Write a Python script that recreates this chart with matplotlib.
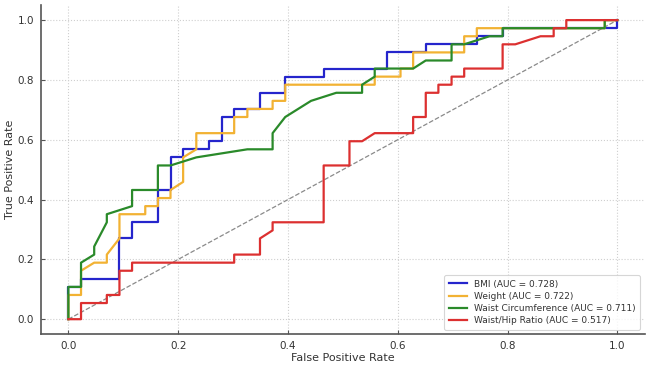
import matplotlib
matplotlib.use("Agg")
import matplotlib.pyplot as plt

# ROC curve points
bmi_fpr = [0, 0, 0.023, 0.023, 0.093, 0.093, 0.116, 0.116, 0.163, 0.163, 0.186, 0.186,
           0.209, 0.209, 0.256, 0.256, 0.279, 0.279, 0.302, 0.302, 0.349, 0.349, 0.395, 0.395,
           0.465, 0.465, 0.581, 0.581, 0.651, 0.651, 0.744, 0.744, 0.791, 0.791, 1.0, 1.0]
bmi_tpr = [0, 0.108, 0.108, 0.135, 0.135, 0.270, 0.270, 0.324, 0.324, 0.432, 0.432, 0.541,
           0.541, 0.568, 0.568, 0.595, 0.595, 0.676, 0.676, 0.703, 0.703, 0.757, 0.757, 0.811,
           0.811, 0.838, 0.838, 0.892, 0.892, 0.919, 0.919, 0.946, 0.946, 0.973, 0.973, 1.0]

weight_fpr = [0, 0, 0.023, 0.023, 0.047, 0.070, 0.070, 0.093, 0.093, 0.140, 0.140, 0.163,
              0.163, 0.186, 0.186, 0.209, 0.209, 0.233, 0.233, 0.302, 0.302, 0.326, 0.326, 0.372,
              0.372, 0.395, 0.395, 0.558, 0.558, 0.605, 0.605, 0.628, 0.628, 0.721, 0.721, 0.744,
              0.744, 0.977, 0.977, 1.0]
weight_tpr = [0, 0.081, 0.081, 0.162, 0.189, 0.189, 0.216, 0.270, 0.351, 0.351, 0.378, 0.378,
              0.405, 0.405, 0.432, 0.459, 0.541, 0.568, 0.622, 0.622, 0.676, 0.676, 0.703, 0.703,
              0.730, 0.730, 0.784, 0.784, 0.811, 0.811, 0.838, 0.838, 0.892, 0.892, 0.946, 0.946,
              0.973, 0.973, 1.0, 1.0]

waist_fpr = [0, 0, 0.023, 0.023, 0.047, 0.047, 0.070, 0.070, 0.116, 0.116, 0.163, 0.163,
             0.186, 0.233, 0.326, 0.372, 0.372, 0.395, 0.442, 0.488, 0.535, 0.535, 0.558, 0.558,
             0.628, 0.651, 0.698, 0.698, 0.721, 0.767, 0.791, 0.791, 0.977, 0.977, 1.0]
waist_tpr = [0, 0.108, 0.108, 0.189, 0.216, 0.243, 0.324, 0.351, 0.378, 0.432, 0.432, 0.514,
             0.514, 0.541, 0.568, 0.568, 0.622, 0.676, 0.730, 0.757, 0.757, 0.784, 0.811, 0.838,
             0.838, 0.865, 0.865, 0.919, 0.919, 0.946, 0.946, 0.973, 0.973, 1.0, 1.0]

whr_fpr = [0, 0.023, 0.023, 0.070, 0.070, 0.093, 0.093, 0.116, 0.116, 0.302, 0.302, 0.349,
           0.349, 0.372, 0.372, 0.465, 0.465, 0.512, 0.512, 0.535, 0.558, 0.628, 0.628, 0.651,
           0.651, 0.674, 0.674, 0.698, 0.698, 0.721, 0.721, 0.791, 0.791, 0.814, 0.860, 0.884,
           0.884, 0.907, 0.907, 1.0]
whr_tpr = [0, 0, 0.054, 0.054, 0.081, 0.081, 0.162, 0.162, 0.189, 0.189, 0.216, 0.216,
           0.270, 0.297, 0.324, 0.324, 0.514, 0.514, 0.595, 0.595, 0.622, 0.622, 0.676, 0.676,
           0.757, 0.757, 0.784, 0.784, 0.811, 0.811, 0.838, 0.838, 0.919, 0.919, 0.946, 0.946,
           0.973, 0.973, 1.0, 1.0]

labels = ["BMI (AUC = 0.728)", "Weight (AUC = 0.722)",
          "Waist Circumference (AUC = 0.711)", "Waist/Hip Ratio (AUC = 0.517)"]
colors = ["#2525cc", "#f2b233", "#2a8a2a", "#dc3030"]
ticks = [0.0, 0.2, 0.4, 0.6, 0.8, 1.0]
tick_labels = ["0.0", "0.2", "0.4", "0.6", "0.8", "1.0"]

fig = plt.figure(figsize=(6.5, 3.68), dpi=100)
ax = fig.add_axes([0.063, 0.092, 0.929, 0.894])

ax.plot([0, 1], [0, 1], linestyle="--", color="#8a8a8a", lw=0.9, zorder=1)
series = [(bmi_fpr, bmi_tpr), (weight_fpr, weight_tpr),
          (waist_fpr, waist_tpr), (whr_fpr, whr_tpr)]
for (fx, ty), lab, c in zip(series, labels, colors):
    ax.plot(fx, ty, color=c, lw=1.6, label=lab, zorder=2)

ax.set_xlim(-0.05, 1.05)
ax.set_ylim(-0.05, 1.05)
ax.set_xticks(ticks)
ax.set_xticklabels(tick_labels)
ax.set_yticks(ticks)
ax.set_yticklabels(tick_labels)
ax.grid(True, linestyle=":", color="#cfcfcf", lw=0.8)
ax.set_axisbelow(True)
for s in ["top", "right"]:
    ax.spines[s].set_visible(False)
for s in ["left", "bottom"]:
    ax.spines[s].set_color("#555555")
    ax.spines[s].set_linewidth(1.2)
ax.tick_params(axis="both", direction="in", length=3, color="#555555",
               labelsize=7.5, labelcolor="#333333", pad=5)
ax.set_xlabel("False Positive Rate", fontsize=8, color="#333333", labelpad=1.5)
ax.set_ylabel("True Positive Rate", fontsize=8, color="#333333", labelpad=1.5)

leg = ax.legend(loc="lower right", fontsize=6.5, frameon=True, fancybox=True,
                borderpad=0.5, handlelength=2.0, labelspacing=0.35)
leg.get_frame().set_edgecolor("#cccccc")
leg.get_frame().set_linewidth(0.8)
for t in leg.get_texts():
    t.set_color("#333333")

fig.savefig("out.png", dpi=100)
